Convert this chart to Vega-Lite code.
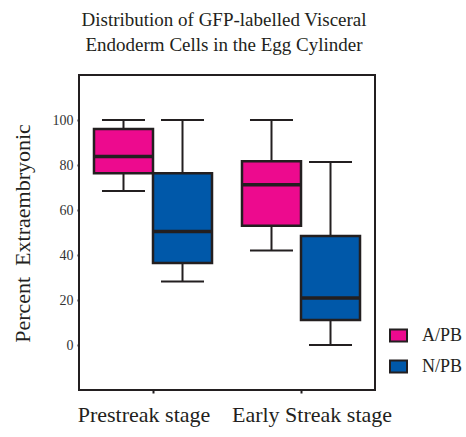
{
  "$schema": "https://vega.github.io/schema/vega-lite/v6.json",
  "autosize": {"type": "none"},
  "padding": {"left": 79, "top": 75, "right": 91, "bottom": 47},
  "width": 296,
  "height": 315,
  "background": "white",
  "title": {
    "text": ["Distribution of GFP-labelled Visceral", "Endoderm Cells in the Egg Cylinder"],
    "font": "Liberation Serif",
    "fontSize": 19,
    "fontWeight": "normal",
    "lineHeight": 25,
    "color": "#231f20",
    "anchor": "middle",
    "dx": -3,
    "offset": 20
  },
  "config": {
    "font": "Liberation Serif",
    "view": {"stroke": "#231f20", "strokeWidth": 2},
    "axis": {"labelFont": "Liberation Serif", "titleFont": "Liberation Serif", "labelColor": "#333333", "titleColor": "#231f20", "domain": false, "grid": false, "tickColor": "#231f20"},
    "legend": {"labelFont": "Liberation Serif"}
  },
  "data": {
    "values": [
      {"stage": "Prestreak stage", "group": "A/PB", "min": 68.5, "q1": 76.3, "median": 83.8, "q3": 96, "max": 100},
      {"stage": "Prestreak stage", "group": "N/PB", "min": 28.2, "q1": 36.5, "median": 50.5, "q3": 76.3, "max": 100},
      {"stage": "Early Streak stage", "group": "A/PB", "min": 42, "q1": 53, "median": 71.2, "q3": 81.7, "max": 100},
      {"stage": "Early Streak stage", "group": "N/PB", "min": 0, "q1": 11.1, "median": 20.9, "q3": 48.5, "max": 81.3}
    ]
  },
  "encoding": {
    "x": {
      "field": "stage", "type": "nominal",
      "sort": ["Prestreak stage", "Early Streak stage"],
      "scale": {"paddingInner": 0, "paddingOuter": 0},
      "axis": {"title": null, "labelAngle": 0, "labelFont": "Liberation Serif", "labelFontSize": 22, "labelColor": "#231f20", "tickSize": 3, "tickWidth": 2, "labelPadding": 11,
        "labelAlign": "center", "labelOverlap": false, "labelBound": false,
        "labelOffset": {"condition": {"test": "datum.value == 'Prestreak stage'", "value": -9}, "value": 11}}
    },
    "xOffset": {
      "field": "group", "type": "nominal",
      "sort": ["A/PB", "N/PB"],
      "scale": {"paddingInner": 0, "paddingOuter": 0.254}
    }
  },
  "layer": [
    {
      "mark": {"type": "rule", "color": "#231f20", "strokeWidth": 2},
      "encoding": {
        "y": {
          "field": "min", "type": "quantitative",
          "scale": {"domain": [-20, 120], "nice": false, "zero": false},
          "axis": {"title": "Percent\u00a0\u00a0Extraembryonic", "values": [0, 20, 40, 60, 80, 100], "labelFont": "Liberation Serif", "labelFontSize": 14, "tickSize": 2, "tickWidth": 2, "labelPadding": 4, "titleFont": "Liberation Serif", "titleFontSize": 22, "titleFontWeight": "normal", "titleX": -57, "titleY": 158, "titleBaseline": "middle", "titleAngle": -90, "titleAlign": "center"}
        },
        "y2": {"field": "max"}
      }
    },
    {
      "mark": {"type": "tick", "color": "#231f20", "thickness": 2, "size": 43, "opacity": 1},
      "encoding": {"y": {"field": "min", "type": "quantitative"}}
    },
    {
      "mark": {"type": "tick", "color": "#231f20", "thickness": 2, "size": 43, "opacity": 1},
      "encoding": {"y": {"field": "max", "type": "quantitative"}}
    },
    {
      "mark": {"type": "bar", "stroke": "#231f20", "strokeWidth": 2.5, "opacity": 1},
      "encoding": {
        "y": {"field": "q1", "type": "quantitative"},
        "y2": {"field": "q3"},
        "color": {
          "field": "group", "type": "nominal",
          "scale": {"domain": ["A/PB", "N/PB"], "range": ["#ED0A8E", "#0058A9"]},
          "legend": {
            "title": null, "orient": "none", "legendX": 310, "legendY": 251,
            "symbolType": "M-1,-0.7H1V0.7H-1Z", "symbolSize": 289,
            "symbolStrokeColor": "#231f20", "symbolStrokeWidth": 2,
            "labelFont": "Liberation Serif",
            "labelFontSize": 18, "labelColor": "#231f20", "labelOffset": 14,
            "rowPadding": 10, "padding": 0,
            "labelExpr": "datum.label == 'A/PB' ? '\u00a0A/PB' : datum.label"
          }
        }
      }
    },
    {
      "mark": {"type": "tick", "color": "#231f20", "thickness": 3.5, "size": 59, "opacity": 1},
      "encoding": {"y": {"field": "median", "type": "quantitative"}}
    }
  ]
}
